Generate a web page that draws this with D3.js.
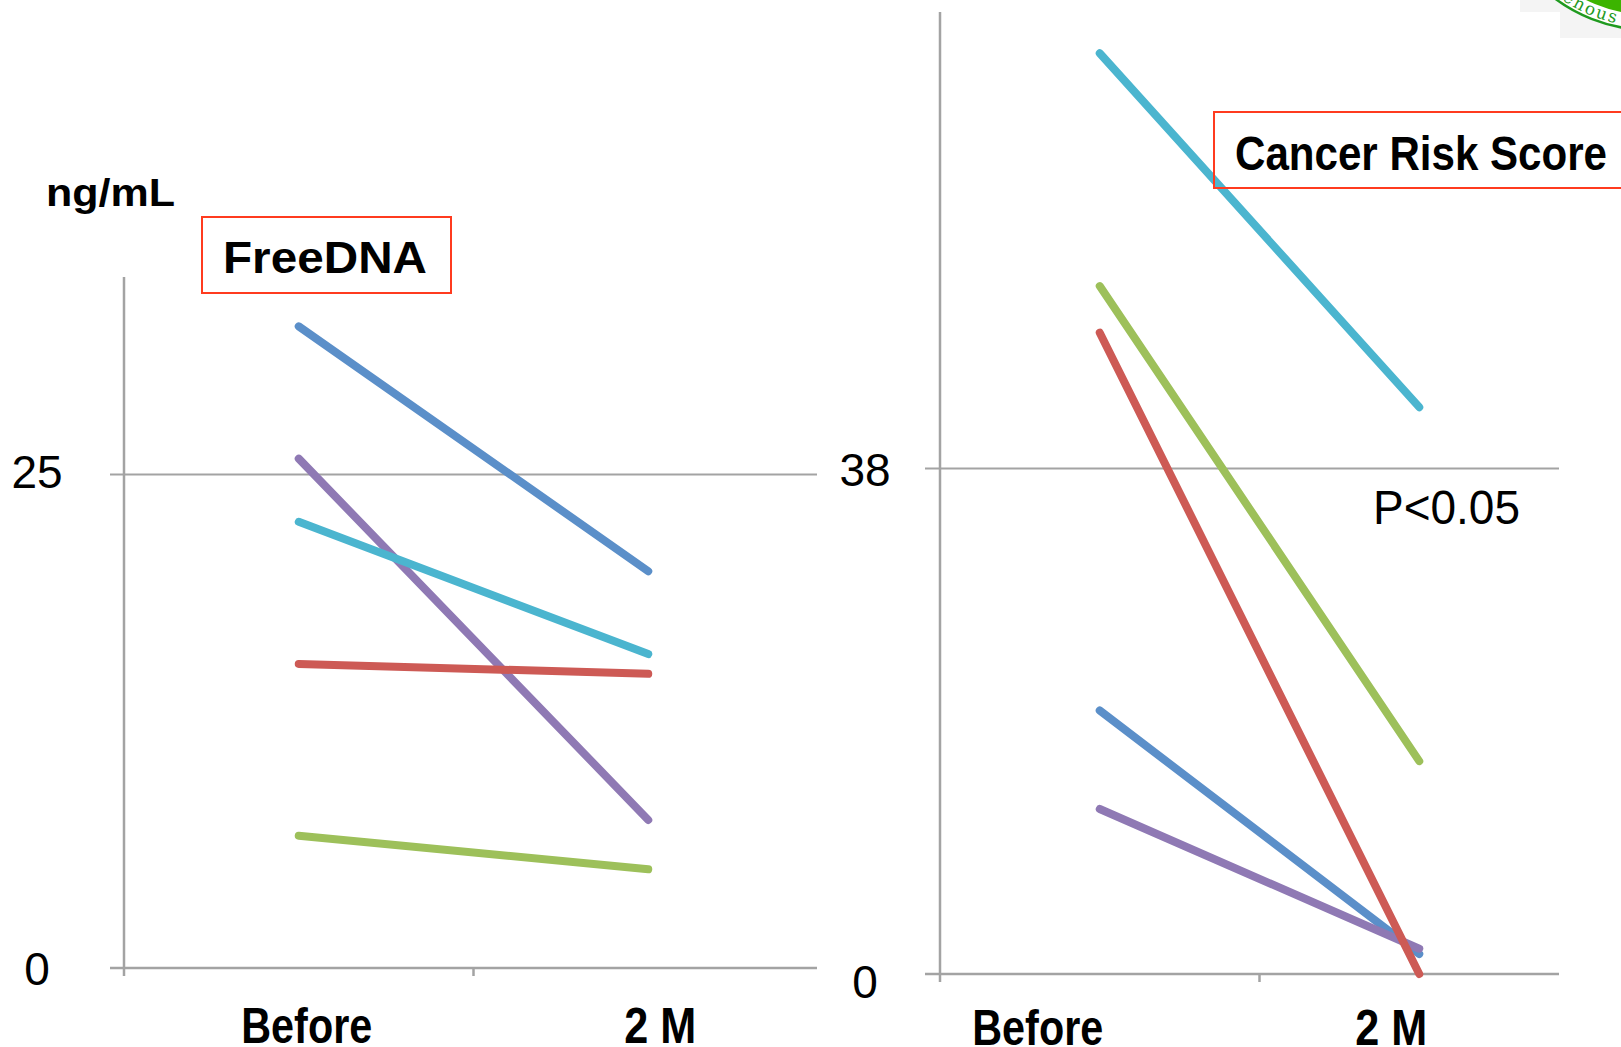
<!DOCTYPE html>
<html>
<head>
<meta charset="utf-8">
<script src="https://cdn.jsdelivr.net/npm/d3@7"></script>
<style>
  html, body { margin: 0; padding: 0; background: #ffffff; }
  svg { display: block; }
</style>
</head>
<body>
<svg id="chart" width="1621" height="1047"></svg>
<script>
// ---------- DATA ----------
const categories = ["Before", "2 M"];
const seriesNames = ["S1", "S2", "S3", "S4", "S5"];
// FreeDNA (ng/mL)
const freeDnaBefore = [32.5, 25.8, 6.7, 22.6, 15.4];
const freeDna2M     = [20.1, 7.5, 5.0, 15.9, 14.9];
// Cancer Risk Score
const crsBefore = [19.8, 12.4, 51.7, 69.2, 48.2];
const crs2M     = [1.5, 1.9, 16.0, 42.6, 0.0];
// tick labels
const leftTicks = [0, 25];
const rightTicks = [0, 38];

// ---------- STYLE ----------
const palette = ["#5b8fc9", "#8f79b4", "#9dc05a", "#4bb5cf", "#cd5a55"];
const axisColor = "#a3a3a3";
const boxColor = "#ff3b1f";

const svg = d3.select("#chart");

// ---------- LOGO (top-right decoration, partly off-page) ----------
const logo = svg.append("g");
logo.append("rect").attr("x", 1520).attr("y", 0).attr("width", 101).attr("height", 12).attr("fill", "#f4f4f4");
logo.append("rect").attr("x", 1560).attr("y", 0).attr("width", 61).attr("height", 38).attr("fill", "#f4f4f4");
const lcx = 1650, lcy = -129;
logo.append("circle").attr("cx", lcx).attr("cy", lcy).attr("r", 159).attr("fill", "#ffffff").attr("stroke", "#1f9a1f").attr("stroke-width", 2.5);
logo.append("circle").attr("cx", lcx).attr("cy", lcy).attr("r", 144).attr("fill", "#3cb400");
const defs = svg.append("defs");
const arcPath = d3.path();
arcPath.arc(lcx, lcy, 156, Math.PI * 150 / 180, Math.PI * 40 / 180, true);
defs.append("path").attr("id", "logoArc").attr("d", arcPath.toString());
logo.append("text")
  .attr("font-family", "'DejaVu Serif', 'Liberation Serif', serif")
  .attr("font-size", 17).attr("fill", "#1f9a1f").attr("letter-spacing", 2)
  .append("textPath").attr("href", "#logoArc").attr("startOffset", 58)
  .text("venous");

// ---------- LEFT CHART: FreeDNA ----------
const xL = d3.scaleBand().domain(categories).range([124, 823]).padding(0);
const yL = d3.scaleLinear().domain([0, 35]).range([968, 277]);

const gL = svg.append("g");
gL.selectAll("line.grid").data(leftTicks.filter(d => d !== 0)).join("line")
  .attr("x1", 110).attr("x2", 817).attr("y1", d => yL(d)).attr("y2", d => yL(d))
  .attr("stroke", axisColor).attr("stroke-width", 2);
gL.append("line").attr("x1", 110).attr("x2", 817).attr("y1", yL(0)).attr("y2", yL(0))
  .attr("stroke", axisColor).attr("stroke-width", 2.5);
gL.append("line").attr("x1", xL.range()[0]).attr("x2", xL.range()[0]).attr("y1", yL(35)).attr("y2", yL(0) + 8)
  .attr("stroke", axisColor).attr("stroke-width", 2.5);
gL.append("line").attr("x1", xL("2 M")).attr("x2", xL("2 M")).attr("y1", yL(0)).attr("y2", yL(0) + 8)
  .attr("stroke", axisColor).attr("stroke-width", 2.5);
gL.selectAll("text.ytick").data(leftTicks).join("text")
  .attr("x", 37).attr("y", d => yL(d) + (d === 0 ? 17 : 14))
  .attr("text-anchor", "middle")
  .attr("font-family", "'Liberation Sans', Arial, sans-serif").attr("font-size", 46)
  .attr("fill", "#000").text(d => d);

const leftData = seriesNames.map((s, i) => ({ s, i, vals: [freeDnaBefore[i], freeDna2M[i]] }));
const lineL = d3.line().x((d, j) => xL(categories[j]) + xL.bandwidth() / 2).y(d => yL(d));
gL.selectAll("path.series").data(leftData).join("path")
  .attr("d", d => lineL(d.vals))
  .attr("fill", "none").attr("stroke", d => palette[d.i])
  .attr("stroke-width", 8).attr("stroke-linecap", "round");

// ---------- RIGHT CHART: Cancer Risk Score ----------
const xR = d3.scaleBand().domain(categories).range([940, 1579]).padding(0);
const yR = d3.scaleLinear().domain([0, 72.3]).range([974, 12]);

const gR = svg.append("g");
gR.selectAll("line.grid").data(rightTicks.filter(d => d !== 0)).join("line")
  .attr("x1", 925).attr("x2", 1559).attr("y1", d => yR(d)).attr("y2", d => yR(d))
  .attr("stroke", axisColor).attr("stroke-width", 2);
gR.append("line").attr("x1", 925).attr("x2", 1559).attr("y1", yR(0)).attr("y2", yR(0))
  .attr("stroke", axisColor).attr("stroke-width", 2.5);
gR.append("line").attr("x1", xR.range()[0]).attr("x2", xR.range()[0]).attr("y1", yR(72.3)).attr("y2", yR(0) + 8)
  .attr("stroke", axisColor).attr("stroke-width", 2.5);
gR.append("line").attr("x1", xR("2 M")).attr("x2", xR("2 M")).attr("y1", yR(0)).attr("y2", yR(0) + 8)
  .attr("stroke", axisColor).attr("stroke-width", 2.5);
gR.selectAll("text.ytick").data(rightTicks).join("text")
  .attr("x", 865).attr("y", d => yR(d) + (d === 0 ? 24 : 18))
  .attr("text-anchor", "middle")
  .attr("font-family", "'Liberation Sans', Arial, sans-serif").attr("font-size", 46)
  .attr("fill", "#000").text(d => d);

const rightData = seriesNames.map((s, i) => ({ s, i, vals: [crsBefore[i], crs2M[i]] }));
const lineR = d3.line().x((d, j) => xR(categories[j]) + xR.bandwidth() / 2).y(d => yR(d));
gR.selectAll("path.series").data(rightData).join("path")
  .attr("d", d => lineR(d.vals))
  .attr("fill", "none").attr("stroke", d => palette[d.i])
  .attr("stroke-width", 8).attr("stroke-linecap", "round");

// ---------- TEXT ANNOTATIONS ----------
const boldFont = "'Liberation Sans', Arial, sans-serif";
const narrowBold = "'Liberation Sans Narrow', 'Liberation Sans', Arial, sans-serif";

svg.append("text").attr("x", 46).attr("y", 206)
  .attr("font-family", boldFont).attr("font-weight", "bold").attr("font-size", 38)
  .attr("textLength", 129).attr("lengthAdjust", "spacingAndGlyphs").text("ng/mL");

svg.append("rect").attr("x", 202).attr("y", 217).attr("width", 249).attr("height", 76)
  .attr("fill", "none").attr("stroke", boxColor).attr("stroke-width", 2);
svg.append("text").attr("x", 223).attr("y", 273)
  .attr("font-family", boldFont).attr("font-weight", "bold").attr("font-size", 44)
  .attr("textLength", 204).attr("lengthAdjust", "spacingAndGlyphs").text("FreeDNA");

svg.append("rect").attr("x", 1214).attr("y", 112).attr("width", 420).attr("height", 76)
  .attr("fill", "none").attr("stroke", boxColor).attr("stroke-width", 2);
svg.append("text").attr("x", 1235).attr("y", 170)
  .attr("font-family", boldFont).attr("font-weight", "bold").attr("font-size", 48)
  .attr("textLength", 372).attr("lengthAdjust", "spacingAndGlyphs").text("Cancer Risk Score");

svg.append("text").attr("x", 1373).attr("y", 524)
  .attr("font-family", "'Liberation Sans', Arial, sans-serif").attr("font-size", 48)
  .attr("textLength", 147).attr("lengthAdjust", "spacingAndGlyphs").text("P<0.05");

const catLabels = [
  { t: "Before", x: xL("Before") + xL.bandwidth() / 2 + 8, y: 1043, w: 131 },
  { t: "2 M",    x: xL("2 M") + xL.bandwidth() / 2 + 12, y: 1043, w: 72 },
  { t: "Before", x: xR("Before") + xR.bandwidth() / 2 - 62, y: 1045, w: 131 },
  { t: "2 M",    x: xR("2 M") + xR.bandwidth() / 2 - 28, y: 1045, w: 72 }
];
svg.selectAll("text.cat").data(catLabels).join("text")
  .attr("x", d => d.x).attr("y", d => d.y).attr("text-anchor", "middle")
  .attr("font-family", narrowBold).attr("font-weight", "bold").attr("font-size", 50)
  .attr("textLength", d => d.w).attr("lengthAdjust", "spacingAndGlyphs")
  .text(d => d.t);
</script>
</body>
</html>
